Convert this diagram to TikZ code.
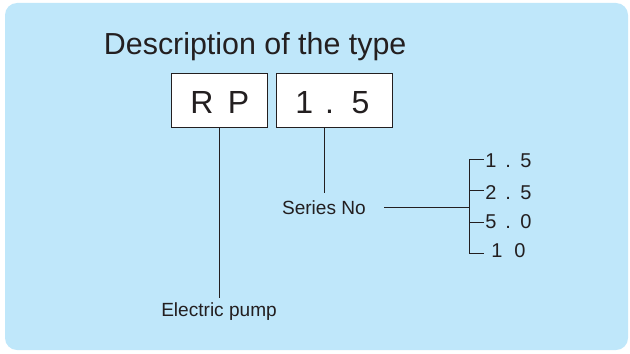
\documentclass[tikz,border=0pt]{standalone}
\usepackage{fontspec}
\setmainfont{Liberation Sans}
\usepackage{xcolor}
\definecolor{panelblue}{RGB}{191,231,250}
\definecolor{inkgray}{RGB}{35,31,32}

\begin{document}
\begin{tikzpicture}[x=0.75pt,y=-0.75pt,
	txt/.style={anchor=base west,inner sep=0pt,text=inkgray},
	typebox/.style={draw=inkgray,fill=white,line width=0.75pt,inner sep=0pt,minimum height=40.5pt},
	lead/.style={draw=inkgray,line width=0.75pt}]
	\useasboundingbox (0,0) rectangle (630,353);
	\fill[panelblue,rounded corners=9pt] (5,3) rectangle (628,350);

	\node[txt,font=\fontsize{22.8}{27}\selectfont] (title) at (103.7,55) {Description of the type};

	\node[typebox,minimum width=72pt] (rp) at (219,100) {};
	\node[typebox,minimum width=87pt] (sn) at (334,100) {};
	\node[txt,font=\fontsize{24}{28}\selectfont] (rptext) at (190.2,113.3) {R\hspace{0.45em}P};
	\node[txt,font=\fontsize{24}{28}\selectfont] (sntext) at (295,113.3) {1\hspace{0.38em}.\hspace{0.55em}5};

	\node[txt,font=\fontsize{14.3}{17}\selectfont] (series) at (281.8,214) {Series No};
	\node[txt,font=\fontsize{14.3}{17}\selectfont] (pump) at (161,316.7) {Electric pump};

	\coordinate (P1) at (219,298);
	\coordinate (S1) at (324.3,193);
	\coordinate (H0) at (384.3,207);
	\coordinate (H1) at (469.3,207);
	\coordinate (B0) at (469.3,159);
	\coordinate (B1) at (469.3,253);

	\draw[lead] (rp.south) -- (P1);
	\draw[lead] (sn.south -| S1) -- (S1);
	\draw[lead] (H0) -- (H1);
	\draw[lead] (B0) -- (B1);

	\foreach \ty/\by/\num [count=\i] in {159/167.7/{1\hspace{0.445em}.\hspace{0.47em}5},
		190/199/{2\hspace{0.445em}.\hspace{0.47em}5},
		222/228.3/{5\hspace{0.445em}.\hspace{0.47em}0}}
	{
		\draw[lead] (469.3,\ty) -- (484,\ty);
		\node[txt,font=\fontsize{15}{18}\selectfont] (size\i) at (485,\by) {\num};
	}
	\draw[lead] (469.3,253) -- (484,253);
	\node[txt,font=\fontsize{15}{18}\selectfont] (size4) at (491,257.7) {1\hspace{0.6em}0};
\end{tikzpicture}
\end{document}
